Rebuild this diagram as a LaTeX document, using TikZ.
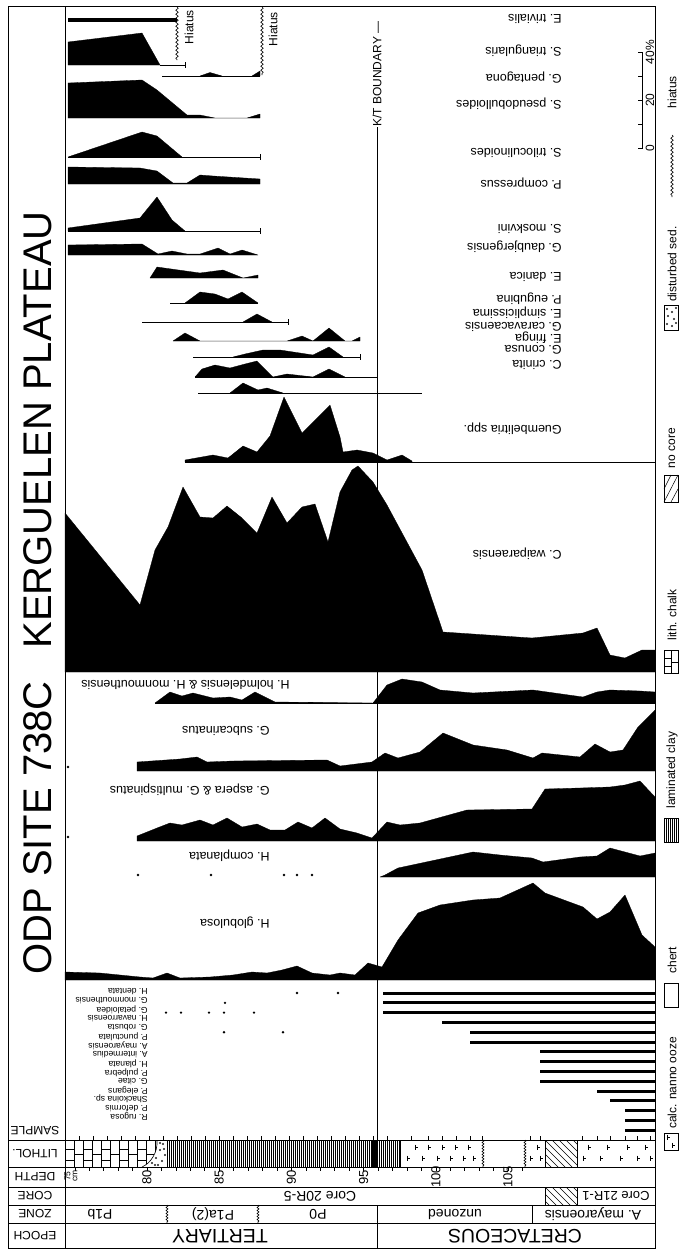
\documentclass[tikz,border=0pt]{standalone}
\usepackage{fontspec}
\setmainfont{Liberation Sans}
\usepackage{tikz}
\usetikzlibrary{decorations.pathmorphing}

\newcommand{\ooze}[2]{\draw[line width=0.5pt] (#1,#2-2.5)--(#1,#2+2.5) (#1,#2)--(#1+3,#2);}
\newcommand{\rtick}[2]{\draw (#1,#2-3)--(#1,#2+3);}

\begin{document}
\begin{tikzpicture}[x=1pt,y=-1pt,line width=0.6pt,
  prof/.style={fill=black,draw=black,line width=0.3pt,line join=round},
  rangebar/.style={line width=3pt},
  wavy/.style={decorate,decoration={snake,amplitude=1.2pt,segment length=4pt}},
  spec/.style={font=\fontsize{12.5}{13}\selectfont,rotate=180,anchor=west,inner sep=0pt},
  crspec/.style={font=\fontsize{8.6}{9}\selectfont,rotate=180,anchor=west,inner sep=0pt},
  colhead/.style={font=\fontsize{12}{12}\selectfont,rotate=180,inner sep=0pt},
  zonelab/.style={font=\fontsize{14}{14}\selectfont,rotate=180,inner sep=0pt},
  epochlab/.style={font=\fontsize{19.5}{20}\selectfont,rotate=180,inner sep=0pt},
  deplab/.style={font=\fontsize{13}{13}\selectfont,rotate=90,inner sep=0pt},
  leglab/.style={font=\fontsize{12}{12}\selectfont,rotate=90,inner sep=0pt},
  titlelab/.style={font=\fontsize{40}{40}\selectfont,rotate=90,inner sep=0pt}]
  \useasboundingbox (0,0) rectangle (679,1251);

  % frame and table
  \draw[line width=0.7pt] (8,6) rectangle (655,1248);
  \draw[line width=0.7pt] (65,6) -- (65,1248);
  \foreach \yy in {1140,1167,1187,1205,1223} \draw[line width=0.7pt] (8,\yy) -- (655,\yy);

  % title
  \node[titlelab] (ttlA) at (38,828) {ODP SITE 738C};
  \node[titlelab] (ttlB) at (38,430) {KERGUELEN PLATEAU};

  % column heads
  \node[colhead] (hSample) at (35,1131) {SAMPLE};
  \node[colhead] (hLith) at (35,1153.5) {LITHOL.};
  \node[colhead] (hDepth) at (35,1177) {DEPTH};
  \node[colhead] (hCore) at (35,1196) {CORE};
  \node[colhead] (hZone) at (35,1214) {ZONE};
  \node[colhead] (hEpoch) at (35,1235.5) {EPOCH};

  % epoch
  \draw (377,1205) -- (377,1248);
  \node[epochlab] (eTer) at (220,1236) {TERTIARY};
  \node[epochlab] (eCre) at (515,1236) {CRETACEOUS};

  % zone
  \draw[wavy,decoration={amplitude=1pt,segment length=3pt}] (167,1205) -- (167,1223);
  \draw[wavy,decoration={amplitude=1pt,segment length=3pt}] (258,1205) -- (258,1223);
  \draw (532,1205) -- (532,1223);
  \node[zonelab] (zA) at (100,1214) {P1b};
  \node[zonelab] (zB) at (213,1214) {P1a(2)};
  \node[zonelab] (zC) at (318,1214) {P0};
  \node[zonelab] (zD) at (455,1214) {unzoned};
  \node[zonelab] (zE) at (593,1214) {A. mayaroensis};

  % core
  \draw (545,1187) -- (545,1205) (577,1187) -- (577,1205);
  \begin{scope}
    \clip (545,1187) rectangle (577,1205);
    \foreach \i in {-3,...,5} \draw[line width=0.5pt] (545+\i*7,1187) -- ++(20,20);
  \end{scope}
  \node[zonelab] (cA) at (320,1196) {Core 20R-5};
  \node[zonelab,font=\fontsize{13}{13}\selectfont] (cB) at (616,1196) {Core 21R-1};

  % depth
  \foreach \d in {75,...,106} \draw ({147+(\d-80)*14.44},1167) -- ++(0,4);
  \node[deplab,align=center,font=\fontsize{8.5}{7}\selectfont] (d75) at (71,1176) {75\\cm};
  \foreach \d/\nm in {80/dA,85/dB,90/dC,95/dD,100/dE,105/dF}
    \node[deplab] (\nm) at ({147+(\d-80)*14.44},1177) {\d};

  % lithology
  \begin{scope}
    \clip (63,1140) -- (157,1140) .. controls (158,1152) and (151,1163) .. (142,1167) -- (63,1167) -- cycle;
    \foreach \k in {0,...,10} \draw[line width=0.5pt] (65+9*\k,1140) -- (65+9*\k,1167);
    \foreach \k in {0,2,...,10} \draw[line width=0.5pt] (65+9*\k,1149) -- (74+9*\k,1149) (65+9*\k,1160) -- (74+9*\k,1160);
    \foreach \k in {1,3,...,9} \draw[line width=0.5pt] (65+9*\k,1154) -- (74+9*\k,1154);
  \end{scope}
  \draw (157,1140) .. controls (158,1152) and (151,1163) .. (142,1167);
  \foreach \p in {(152,1163),(156,1158),(160,1150),(163,1144),(155,1165),(162,1161),(165,1155),(160,1143),(158,1165),(164,1149)}
    \draw[line width=0.4pt] \p circle (0.8pt);
  \foreach \xx in {167,169,...,399} \draw[line width=0.4pt] (\xx,1140) -- (\xx,1167);
  \fill (372,1140) rectangle (377,1167);
  \draw (400,1140) -- (400,1167) (545,1140) -- (545,1167) (577,1140) -- (577,1167);
  \draw[wavy,decoration={amplitude=1pt,segment length=3pt}] (483,1140) -- (483,1167);
  \draw[wavy,decoration={amplitude=1pt,segment length=3pt}] (525,1140) -- (525,1167);
  \foreach \xx in {415,428,442,455,468,537,588,607,627,645} {\ooze{\xx}{1147}}
  \foreach \xx in {407,422,437,450,463,473,530,540,583,600,620,637,650} {\ooze{\xx}{1158}}
  \begin{scope}
    \clip (545,1140) rectangle (577,1167);
    \foreach \i in {-4,...,5} \draw[line width=0.5pt] (545+\i*7,1140) -- ++(28,28);
  \end{scope}

  % samples
  \foreach \xx in {65,79,...,400} \draw (\xx,1140) -- ++(0,-4);
  \foreach \xx in {411,428,442,456,470,482,530,540,582,597,610,625,637,650} \draw (\xx,1140) -- ++(0,-4);

  % K/T boundary
  \node[rotate=90,anchor=west,inner sep=0pt,font=\fontsize{12}{12}\selectfont] (kt) at (377,127) {K/T BOUNDARY —};
  \coordinate (ktbot) at (377,1140);
  \draw (kt.west) -- (ktbot);

  % hiatus
  \draw[wavy] (177,7) -- (177,60);
  \draw[wavy] (262,7) -- (262,75);
  \node[rotate=90,anchor=east,inner sep=0pt,font=\fontsize{12}{12}\selectfont] (hiA) at (189,10) {Hiatus};
  \node[rotate=90,anchor=east,inner sep=0pt,font=\fontsize{12}{12}\selectfont] (hiB) at (273,12) {Hiatus};

  % E. trivialis
  \fill (68,18) rectangle (177,21.5);
  \node[spec] (sTriv) at (562,19) {E. trivialis};

  % S. triangularis
  \fill[prof] (68,65) -- (68,42) -- (142,33) -- (160,65) -- cycle;
  \draw (160,65) -- (185,65); \rtick{185}{65}
  \node[spec] (sTria) at (562,51) {S. triangularis};

  % G. pentagona
  \draw (162,76) -- (260,76);
  \fill[prof] (200,76) -- (210,72.5) -- (222,76) -- cycle;
  \fill[prof] (252,76) -- (260,71) -- (260,76) -- cycle;
  \node[spec] (sPent) at (562,78) {G. pentagona};

  % S. pseudobulloides
  \fill[prof] (68,118) -- (68,83) -- (142,80) -- (157,90) -- (187,115) -- (200,115) -- (215,118) -- (247,118) -- (260,114) -- (260,118) -- cycle;
  \node[spec] (sPseu) at (562,104) {S. pseudobulloides};

  % S. triloculinoides
  \fill[prof] (68,157) -- (142,132) -- (157,136) -- (182,157) -- cycle;
  \draw (68,157) -- (260,157); \rtick{260}{157}
  \node[spec] (sTril) at (562,153) {S. triloculinoides};

  % P. compressus
  \fill[prof] (68,184) -- (68,167) -- (140,168) -- (157,171) -- (173,183) -- (187,183) -- (200,175) -- (213,176) -- (260,179) -- (260,184) -- cycle;
  \node[spec] (sComp) at (562,183) {P. compressus};

  % S. moskvini
  \fill[prof] (68,231) -- (68,228) -- (140,218) -- (157,197) -- (172,220) -- (185,231) -- cycle;
  \draw (68,231) -- (260,231); \rtick{260}{231}
  \node[spec] (sMosk) at (562,229) {S. moskvini};

  % G. daubjergensis
  \fill[prof] (68,255) -- (68,245) -- (142,244) -- (158,254) -- (172,251) -- (187,254) -- (200,254) -- (218,248) -- (230,254) -- (242,250) -- (258,255) -- cycle;
  \node[spec] (sDaub) at (562,247) {G. daubjergensis};

  % E. danica
  \fill[prof] (150,278) -- (157,267) -- (200,273) -- (223,270) -- (243,278) -- (258,275) -- (258,278) -- cycle;
  \node[spec] (sDani) at (562,277) {E. danica};

  % P. eugubina
  \draw (170,303) -- (258,303);
  \fill[prof] (185,303) -- (200,292) -- (215,294) -- (228,299) -- (242,292) -- (258,303) -- cycle;
  \node[spec] (sEugu) at (562,299) {P. eugubina};

  % E. simplicissima
  \draw (142,322) -- (288,322); \rtick{288}{322}
  \fill[prof] (243,322) -- (257,314) -- (272,322) -- cycle;
  \node[spec] (sSimp) at (562,313) {E. simplicissima};

  % G. caravacaensis
  \fill[prof] (173,341) -- (185,333) -- (200,341) -- (287,341) -- (302,336) -- (313,341) -- (329,328) -- (345,341) -- (352,341) -- (360,337) -- (360,341) -- cycle;
  \node[spec] (sCara) at (562,327) {G. caravacaensis};

  % E. fringa
  \draw (193,357) -- (360,357); \rtick{360}{357}
  \fill[prof] (233,357) -- (245,354) -- (263,350) -- (280,350) -- (313,355) -- (329,347) -- (343,357) -- cycle;
  \node[spec] (sFrin) at (562,338) {E. fringa};

  % G. conusa
  \fill[prof] (195,377) -- (202,369) -- (215,365) -- (230,368) -- (245,364) -- (257,361) -- (273,377) -- (287,374) -- (313,377) -- (329,369) -- (345,377) -- cycle;
  \draw (195,377) -- (377,377); \rtick{377}{377}
  \node[spec] (sConu) at (562,350) {G. conusa};

  % C. crinita
  \draw (198,393) -- (422,393);
  \fill[prof] (230,393) -- (243,383) -- (258,390) -- (267,388) -- (283,393) -- cycle;
  \node[spec] (sCrin) at (562,365) {C. crinita};

  % Guembelitria
  \fill[prof] (185,462) -- (185,460) -- (213,455) -- (228,458) -- (243,446) -- (257,452) -- (270,436) -- (284,397) -- (302,433) -- (330,405) -- (340,437) -- (343,452) -- (357,450) -- (373,453) -- (387,460) -- (402,455) -- (412,461) -- (412,462) -- cycle;
  \draw (185,462) -- (655,462);
  \node[spec] (sGuem) at (562,429) {Guembelitria spp.};

  % C. waiparaensis
  \fill[prof] (65,672) -- (65,513) -- (140,605) -- (155,550) -- (168,527) -- (183,487) -- (200,517) -- (213,518) -- (227,506) -- (242,518) -- (257,533) -- (272,497) -- (287,523) -- (302,507) -- (315,504) -- (328,542) -- (340,492) -- (352,470) -- (358,466) -- (373,482) -- (387,505) -- (422,570) -- (443,632) -- (532,638) -- (583,633) -- (597,628) -- (610,655) -- (625,658) -- (642,650) -- (655,650) -- (655,672) -- cycle;
  \node[spec] (sWaip) at (562,554) {C. waiparaensis};

  % H. holmdelensis
  \fill[prof] (155,703) -- (170,692) -- (182,696) -- (193,693) -- (213,698) -- (230,697) -- (242,700) -- (255,692) -- (267,698) -- (275,702) -- (373,703) -- (387,685) -- (402,679) -- (422,682) -- (440,690) -- (473,693) -- (533,690) -- (583,697) -- (597,692) -- (610,690) -- (640,691) -- (655,692) -- (655,703) -- cycle;
  \draw (155,703) -- (655,703);
  \node[spec] (sHolm) at (290,685) {H. holmdelensis \& H. monmouthensis};

  % G. subcarinatus
  \fill[prof] (137,771) -- (137,762) -- (180,759) -- (197,757) -- (207,762) -- (233,761) -- (327,760) -- (340,766) -- (372,762) -- (385,753) -- (398,758) -- (420,752) -- (443,733) -- (473,745) -- (507,750) -- (533,758) -- (542,753) -- (580,757) -- (595,744) -- (610,752) -- (623,750) -- (638,727) -- (655,710) -- (655,771) -- cycle;
  \fill (68,767) circle (1.3pt);
  \node[spec] (sSubc) at (270,731) {G. subcarinatus};

  % G. aspera
  \fill[prof] (137,841) -- (137,836) -- (157,828) -- (170,823) -- (182,825) -- (200,820) -- (213,825) -- (227,818) -- (242,827) -- (257,824) -- (270,830) -- (285,830) -- (298,822) -- (312,828) -- (325,818) -- (340,829) -- (357,833) -- (372,838) -- (387,822) -- (400,825) -- (420,823) -- (467,810) -- (532,809) -- (545,789) -- (580,788) -- (610,787) -- (625,785) -- (640,781) -- (655,797) -- (655,841) -- cycle;
  \fill (68,837) circle (1.3pt);
  \node[spec] (sAspe) at (270,790) {G. aspera \& G. multispinatus};

  % H. complanata
  \foreach \xx in {138,211,284,297,312} \fill (\xx,875) circle (1.3pt);
  \fill[prof] (380,877) -- (385,875) -- (398,868) -- (473,852) -- (500,855) -- (532,858) -- (543,862) -- (580,857) -- (597,856) -- (610,848) -- (625,852) -- (640,856) -- (655,853) -- (655,877) -- cycle;
  \node[spec] (sComl) at (270,856) {H. complanata};

  % H. globulosa
  \fill[prof] (65,980) -- (65,972) -- (100,973) -- (140,977) -- (153,978) -- (167,973) -- (180,978) -- (210,977) -- (233,975) -- (252,972) -- (267,973) -- (282,970) -- (297,966) -- (312,973) -- (330,975) -- (340,973) -- (355,975) -- (368,963) -- (382,967) -- (398,940) -- (418,913) -- (440,905) -- (473,900) -- (500,898) -- (533,883) -- (545,893) -- (583,907) -- (597,919) -- (610,912) -- (625,895) -- (642,935) -- (655,947) -- (655,980) -- cycle;
  \node[spec] (sGlob) at (270,923) {H. globulosa};

  % Cretaceous ranges
  \foreach \st [count=\i from 0] in {383,383,383,442,470,470,540,540,540,540,597,610,625,625,625}
    \draw[rangebar] (\st,{993+9.8*\i}) -- (655,{993+9.8*\i});
  \foreach \nm/\lab [count=\i from 0] in {kA/H. dentata, kB/G. monmouthensis, kC/G. petaloidea,
      kD/H. navarroensis, kE/G. robusta, kF/P. punctulata, kG/A. mayaroensis,
      kH/A. intermedius, kI/H. planata, kJ/P. pulpebra, kK/G. citae,
      kL/P. elegans, kM/Shackoina sp., kN/P. deformis, kO/R. rugosa}
    \node[crspec] (\nm) at (148,{992+8.93*\i}) {\lab};
  \foreach \xx in {297,338} \fill (\xx,993) circle (1.3pt);
  \fill (225,1002.8) circle (1.3pt);
  \foreach \xx in {166,181,209,224,254} \fill (\xx,1012.6) circle (1.3pt);
  \foreach \xx in {224,283} \fill (\xx,1032.2) circle (1.3pt);

  % scale
  \draw (638,52) -- (642,52) -- (642,148) -- (638,148);
  \foreach \yy in {76,100,124} \draw (638,\yy) -- (642,\yy);
  \node[leglab] (scA) at (650,148) {0};
  \node[leglab] (scB) at (650,100) {20};
  \node[leglab] (scC) at (650,52) {40\%};

  % legend
  \draw (664,1133) rectangle (678,1150); \ooze{667}{1137} \ooze{672}{1145}
  \node[leglab] (lgA) at (672,1083) {calc. nanno ooze};
  \draw (664,983) rectangle (678,1007);
  \node[leglab] (lgB) at (672,960) {chert};
  \draw (664,818) rectangle (678,842);
  \foreach \xx in {666,668,...,676} \draw[line width=0.4pt] (\xx,818) -- (\xx,842);
  \node[leglab] (lgC) at (672,770) {laminated clay};
  \draw (664,650) rectangle (678,673);
  \draw[line width=0.5pt] (671,650) -- (671,673) (664,658) -- (671,658) (664,666) -- (671,666) (671,662) -- (678,662);
  \node[leglab] (lgD) at (672,615) {lith. chalk};
  \draw (664,475) rectangle (678,502);
  \draw[line width=0.5pt] (664,502) -- (678,475) (664,489) -- (671,475) (671,502) -- (678,489);
  \node[leglab] (lgE) at (672,448) {no core};
  \draw (664,305) rectangle (678,330);
  \foreach \p in {(667,309),(672,312),(676,308),(668,316),(674,319),(667,324),(672,326),(676,323)}
    \draw[line width=0.4pt] \p circle (0.8pt);
  \node[leglab] (lgF) at (672,264) {disturbed sed.};
  \draw[wavy] (672,135) -- (672,197);
  \node[leglab] (lgG) at (672,92) {hiatus};
\end{tikzpicture}
\end{document}
